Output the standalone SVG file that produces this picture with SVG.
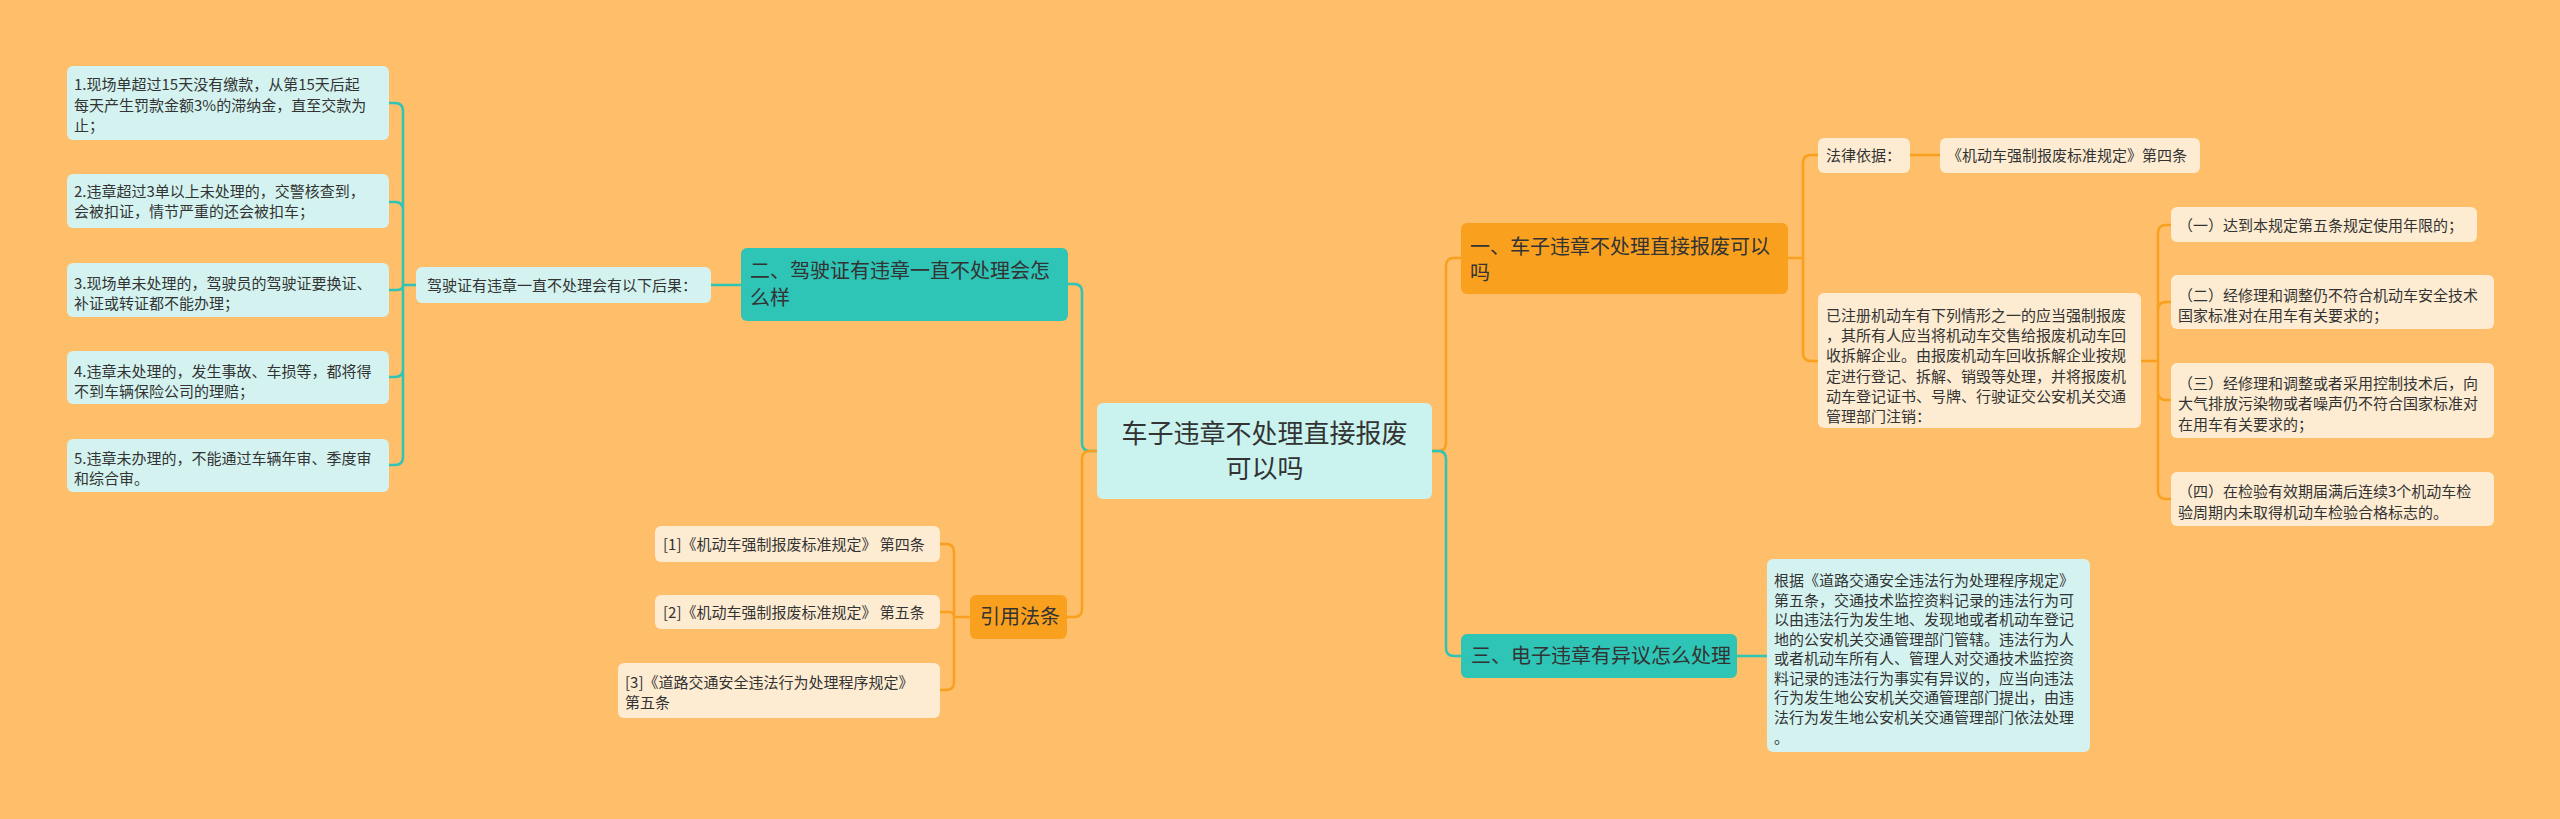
<svg xmlns="http://www.w3.org/2000/svg" width="2560" height="819" viewBox="0 0 2560 819">
<style>
text{font-family:"Noto Sans CJK SC","Noto Sans",sans-serif;fill:#333;}
.t15{font-size:15px;}
.t20{font-size:20px;}
.t26{font-size:26px;}
.lt{fill:#d4f3f0;}
.cr{fill:#fdecd2;}
.tl{fill:#2ec4b6;}
.or{fill:#f9a11e;}
.ct{fill:#caf3ef;}
.ct-l{fill:none;stroke:#2ec4b6;stroke-width:2.5;}
.co-l{fill:none;stroke:#f9a11e;stroke-width:2.5;}
</style>
<rect width="2560" height="819" fill="#febe6a"/>
<g id="connectors">
<path class="ct-l" d="M416,285 H403 M403,285 V111 Q403,103 395,103 H389 M403,285 V210 Q403,202 395,202 H389 M403,285 Q403,290 397,290 H389 M403,285 V369 Q403,377 395,377 H389 M403,285 V457 Q403,465 395,465 H389"/>
<path class="ct-l" d="M711,285 H741"/>
<path class="ct-l" d="M1068,284 H1074 Q1082,284 1082,292 V443 Q1082,451 1090,451 H1097"/>
<path class="co-l" d="M1097,451 H1090 Q1082,451 1082,459 V609 Q1082,617 1074,617 H1067"/>
<path class="co-l" d="M970,617 H954 M954,617 V552 Q954,544 946,544 H940 M954,617 Q954,612 949,612 H940 M954,617 V682 Q954,690 946,690 H940"/>
<path class="co-l" d="M1432,451 H1438 Q1446,451 1446,443 V266 Q1446,258 1454,258 H1461"/>
<path class="ct-l" d="M1432,451 H1438 Q1446,451 1446,459 V648 Q1446,656 1454,656 H1461"/>
<path class="ct-l" d="M1737,656 H1767"/>
<path class="co-l" d="M1788,258 H1803 M1803,258 V163 Q1803,155 1811,155 H1818 M1803,258 V353 Q1803,361 1811,361 H1818"/>
<path class="co-l" d="M1910,155 H1940"/>
<path class="co-l" d="M2141,361 H2158 M2158,361 V233 Q2158,225 2166,225 H2171 M2158,361 V310 Q2158,302 2166,302 H2171 M2158,361 V392 Q2158,400 2166,400 H2171 M2158,361 V491 Q2158,499 2166,499 H2171"/>
</g>
<g id="center">
<rect class="ct" x="1097" y="403" width="335" height="96" rx="6"/>
<text class="t26" x="1264.5" y="443" text-anchor="middle">车子违章不处理直接报废</text>
<text class="t26" x="1264.5" y="478" text-anchor="middle">可以吗</text>
</g>
<g id="n-er">
<rect class="tl" x="741" y="248" width="327" height="73" rx="6"/>
<text class="t20" x="750" y="278">二、驾驶证有违章一直不处理会怎</text>
<text class="t20" x="750" y="305">么样</text>
</g>
<g id="n-jia">
<rect class="lt" x="416" y="267" width="295" height="36" rx="6"/>
<text class="t15" x="427" y="291">驾驶证有违章一直不处理会有以下后果：</text>
</g>
<g id="n-l1">
<rect class="lt" x="67" y="66" width="322" height="74" rx="6"/>
<text class="t15" x="74" y="90">1.现场单超过15天没有缴款，从第15天后起</text>
<text class="t15" x="74" y="111">每天产生罚款金额3%的滞纳金，直至交款为</text>
<text class="t15" x="74" y="131">止；</text>
</g>
<g id="n-l2">
<rect class="lt" x="67" y="174" width="322" height="54" rx="6"/>
<text class="t15" x="74" y="197">2.违章超过3单以上未处理的，交警核查到，</text>
<text class="t15" x="74" y="217">会被扣证，情节严重的还会被扣车；</text>
</g>
<g id="n-l3">
<rect class="lt" x="67" y="263" width="322" height="54" rx="6"/>
<text class="t15" x="74" y="289">3.现场单未处理的，驾驶员的驾驶证要换证、</text>
<text class="t15" x="74" y="309">补证或转证都不能办理；</text>
</g>
<g id="n-l4">
<rect class="lt" x="67" y="351" width="322" height="53" rx="6"/>
<text class="t15" x="74" y="377">4.违章未处理的，发生事故、车损等，都将得</text>
<text class="t15" x="74" y="397">不到车辆保险公司的理赔；</text>
</g>
<g id="n-l5">
<rect class="lt" x="67" y="439" width="322" height="53" rx="6"/>
<text class="t15" x="74" y="464">5.违章未办理的，不能通过车辆年审、季度审</text>
<text class="t15" x="74" y="484">和综合审。</text>
</g>
<g id="n-yinyong">
<rect class="or" x="970" y="595" width="97" height="44" rx="6"/>
<text class="t20" x="980" y="624">引用法条</text>
</g>
<g id="n-ref1">
<rect class="cr" x="655" y="526" width="285" height="36" rx="6"/>
<text class="t15" x="663" y="550">[1]《机动车强制报废标准规定》 第四条</text>
</g>
<g id="n-ref2">
<rect class="cr" x="655" y="595" width="285" height="34" rx="6"/>
<text class="t15" x="663" y="618">[2]《机动车强制报废标准规定》 第五条</text>
</g>
<g id="n-ref3">
<rect class="cr" x="618" y="663" width="322" height="55" rx="6"/>
<text class="t15" x="625" y="688">[3]《道路交通安全违法行为处理程序规定》</text>
<text class="t15" x="625" y="708">第五条</text>
</g>
<g id="n-yi">
<rect class="or" x="1461" y="223" width="327" height="71" rx="6"/>
<text class="t20" x="1470" y="254">一、车子违章不处理直接报废可以</text>
<text class="t20" x="1470" y="280">吗</text>
</g>
<g id="n-falv">
<rect class="cr" x="1818" y="138" width="92" height="35" rx="6"/>
<text class="t15" x="1826" y="161">法律依据：</text>
</g>
<g id="n-falv2">
<rect class="cr" x="1940" y="138" width="260" height="35" rx="6"/>
<text class="t15" x="1947" y="161">《机动车强制报废标准规定》第四条</text>
</g>
<g id="n-yizhuce">
<rect class="cr" x="1818" y="293" width="323" height="135" rx="6"/>
<text class="t15" x="1826" y="321">已注册机动车有下列情形之一的应当强制报废</text>
<text class="t15" x="1826" y="341">，其所有人应当将机动车交售给报废机动车回</text>
<text class="t15" x="1826" y="361">收拆解企业。由报废机动车回收拆解企业按规</text>
<text class="t15" x="1826" y="382">定进行登记、拆解、销毁等处理，并将报废机</text>
<text class="t15" x="1826" y="402">动车登记证书、号牌、行驶证交公安机关交通</text>
<text class="t15" x="1826" y="422">管理部门注销：</text>
</g>
<g id="n-c1">
<rect class="cr" x="2171" y="207" width="306" height="35" rx="6"/>
<text class="t15" x="2178" y="231">（一）达到本规定第五条规定使用年限的；</text>
</g>
<g id="n-c2">
<rect class="cr" x="2171" y="275" width="323" height="54" rx="6"/>
<text class="t15" x="2178" y="301">（二）经修理和调整仍不符合机动车安全技术</text>
<text class="t15" x="2178" y="321">国家标准对在用车有关要求的；</text>
</g>
<g id="n-c3">
<rect class="cr" x="2171" y="363" width="323" height="75" rx="6"/>
<text class="t15" x="2178" y="389">（三）经修理和调整或者采用控制技术后，向</text>
<text class="t15" x="2178" y="409">大气排放污染物或者噪声仍不符合国家标准对</text>
<text class="t15" x="2178" y="430">在用车有关要求的；</text>
</g>
<g id="n-c4">
<rect class="cr" x="2171" y="472" width="323" height="54" rx="6"/>
<text class="t15" x="2178" y="497">（四）在检验有效期届满后连续3个机动车检</text>
<text class="t15" x="2178" y="518">验周期内未取得机动车检验合格标志的。</text>
</g>
<g id="n-san">
<rect class="tl" x="1461" y="634" width="276" height="44" rx="6"/>
<text class="t20" x="1471" y="663">三、电子违章有异议怎么处理</text>
</g>
<g id="n-genju">
<rect class="lt" x="1767" y="559" width="323" height="193" rx="6"/>
<text class="t15" x="1774" y="586">根据《道路交通安全违法行为处理程序规定》</text>
<text class="t15" x="1774" y="606">第五条，交通技术监控资料记录的违法行为可</text>
<text class="t15" x="1774" y="625">以由违法行为发生地、发现地或者机动车登记</text>
<text class="t15" x="1774" y="645">地的公安机关交通管理部门管辖。违法行为人</text>
<text class="t15" x="1774" y="664">或者机动车所有人、管理人对交通技术监控资</text>
<text class="t15" x="1774" y="684">料记录的违法行为事实有异议的，应当向违法</text>
<text class="t15" x="1774" y="703">行为发生地公安机关交通管理部门提出，由违</text>
<text class="t15" x="1774" y="723">法行为发生地公安机关交通管理部门依法处理</text>
<text class="t15" x="1774" y="743">。</text>
</g>
</svg>
